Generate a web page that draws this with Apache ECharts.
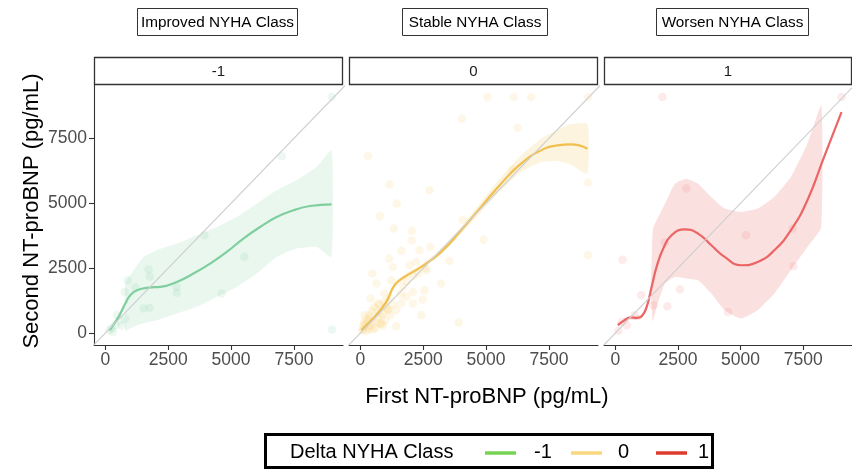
<!DOCTYPE html>
<html>
<head>
<meta charset="utf-8">
<script src="https://cdn.jsdelivr.net/npm/echarts@6/dist/echarts.min.js"></script>
<style>html,body{margin:0;padding:0;background:#fff}#c{width:852px;height:472px}</style>
</head>
<body>
<div id="c"></div>
<script>
// ---------- data ----------
var panelNames = ['-1', '0', '1'];
var panelTitles = ['Improved NYHA Class', 'Stable NYHA Class', 'Worsen NYHA Class'];
var xTicks = [0, 2500, 5000, 7500];
var yTicks = [0, 2500, 5000, 7500];
var legendTitle = 'Delta NYHA Class';
var xTitle = 'First NT-proBNP (pg/mL)';
var yTitle = 'Second NT-proBNP (pg/mL)';

// Improved (-1)
var improvedX   = [172, 529, 794, 992, 1256, 1720, 2183, 2844, 3505, 4167, 4828, 5489, 6151, 6812, 7474, 8135, 8996];
var improvedFit = [115, 628, 1141, 1461, 1654, 1757, 1782, 1974, 2295, 2680, 3128, 3641, 4089, 4474, 4731, 4897, 4962];
var improvedBandX = [172, 529, 750, 800, 1000, 1250, 1520, 2050, 2844, 3638, 4432, 5225, 6019, 6812, 7605, 8399, 8996];
var improvedLo    = [60, 520, 900, 80, 200, 300, 380, 500, 757, 1013, 1398, 1782, 2295, 2936, 3256, 3321, 2936];
var improvedHi    = [170, 740, 1100, 1950, 2250, 2600, 2936, 3192, 3449, 3769, 4089, 4474, 4987, 5500, 5885, 6397, 7038];
var improvedPtX = [9000, 7010, 3940, 5530, 4630, 2840, 2840, 1720, 1760, 890, 1190, 770, 1520, 1760, 790, 460, 400, 170, 300, 9020, 600, 250, 650];
var improvedPtY = [9090, 6810, 3770, 2940, 1530, 1780, 1560, 2450, 2170, 2040, 1760, 1590, 950, 980, 560, 690, 310, 120, 50, 140, 500, 200, 300];

// Stable (0)
var stableX   = [40, 567, 1032, 1361, 1758, 2421, 3214, 4008, 4801, 5595, 6389, 7182, 7841, 8371, 9032];
var stableFit = [115, 628, 1204, 1846, 2167, 2551, 3128, 3962, 4859, 5757, 6526, 7038, 7231, 7269, 7103];
var stableLo  = [55, 538, 1094, 1736, 2067, 2461, 3028, 3832, 4669, 5501, 6206, 6588, 6631, 6489, 6143];
var stableHi  = [175, 718, 1314, 1956, 2267, 2641, 3228, 4092, 5049, 6013, 6846, 7488, 7831, 8049, 8063];
var stablePtX = [5060, 6100, 6790, 9060, 4030, 6250, 300, 1160, 2750, 1450, 770, 1330, 2050, 2040, 4070, 6060, 9060, 9060, 4900, 1630, 2350, 2790, 1140, 1290, 1960, 2220, 2620, 3540, 480, 1230, 3210, 640, 2550, 2090, 410, 960, 1830, 2480, 1630, 2090, 700, 1100, 1430, 170, 2420, 1430, 3910, 830,
                 100, 200, 300, 150, 400, 500, 250, 600, 350, 700, 800, 450, 900, 1000, 550, 120, 650, 750, 850, 300, 1100, 950, 1200, 400, 200, 500, 1300, 1150, 650, 80, 350, 900, 1050, 1600, 1700, 1850, 2100, 2300, 2600];
var stablePtY = [9090, 9090, 9090, 9090, 8260, 7910, 6810, 5720, 5500, 4990, 4500, 4030, 3940, 3580, 4370, 6300, 5800, 3000, 3600, 3170, 3190, 3320, 2870, 2550, 2620, 2740, 2420, 2780, 2300, 2040, 1910, 1910, 1650, 1590, 1340, 1530, 1400, 1300, 1140, 1140, 1140, 890, 890, 690, 690, 270, 410, 370,
                 150, 80, 250, 400, 300, 450, 550, 200, 700, 600, 350, 850, 750, 500, 1000, 300, 900, 1100, 650, 450, 900, 1200, 700, 600, 350, 150, 1100, 1350, 400, 100, 150, 300, 1000, 1500, 1800, 2000, 2200, 2300, 2500];

// Worsen (1)
var worsenX   = [103, 329, 595, 857, 1055, 1254, 1452, 1650, 1916, 2246, 2778, 3305, 3833, 4365, 5024, 5686, 6349, 7008, 7670, 8333, 9031];
var worsenFit = [308, 473, 604, 588, 654, 1012, 1781, 2551, 3257, 3769, 4000, 3834, 3384, 2936, 2615, 2742, 3192, 3961, 5115, 6781, 8511];
var worsenBandX = [103, 329, 595, 857, 1055, 1254, 1420, 1500, 1650, 1984, 2381, 2841, 3305, 3833, 4365, 5024, 5686, 6349, 7008, 7670, 8226];
var worsenLo    = [250, 410, 530, 510, 570, 880, 1450, 450, 1000, 1911, 2166, 2100, 2038, 1527, 885, 565, 885, 1527, 2423, 3320, 4089];
var worsenHi    = [360, 540, 680, 670, 740, 1150, 1950, 4000, 4346, 4987, 5757, 5950, 5757, 5242, 4796, 4665, 4796, 5242, 6011, 7296, 8769];
var worsenPtX = [1880, 9030, 2840, 5220, 7080, 1980, 290, 7120, 2580, 1030, 1520, 2080, 4500, 770, 260, 460, 130];
var worsenPtY = [9090, 9090, 5570, 3770, 4030, 3490, 2830, 2580, 1690, 1460, 1080, 1040, 820, 690, 440, 310, 90];

// ---------- styles ----------
var lineColors = ['#7fce9e', '#f0bf4e', '#ec6565'];
var bandColors = ['rgba(127,206,158,0.17)', 'rgba(242,192,79,0.18)', 'rgba(236,101,101,0.2)'];
var ptColors = ['rgba(127,206,158,0.18)', 'rgba(245,200,90,0.18)', 'rgba(236,101,101,0.16)'];
var legendColors = ['#77d354', '#f9d77e', '#de3b2c'];
var FONT = '"Liberation Sans", Arial, sans-serif';

var panels = [
  {fx: improvedX, fy: improvedFit, bx: improvedBandX, lo: improvedLo, hi: improvedHi, px: improvedPtX, py: improvedPtY},
  {fx: stableX, fy: stableFit, bx: stableX, lo: stableLo, hi: stableHi, px: stablePtX, py: stablePtY},
  {fx: worsenX, fy: worsenFit, bx: worsenBandX, lo: worsenLo, hi: worsenHi, px: worsenPtX, py: worsenPtY}
];

var gridLefts = [94, 349, 604];
var gridW = 249, gridTop = 85, gridH = 260;
var XMIN = -450, XMAX = 9450, YMIN = -455, YMAX = 9555;

function zip(a, b) { return a.map(function (v, i) { return [v, b[i]]; }); }
function plain(v) { return String(v); }

var grids = [], xAxes = [], yAxes = [], series = [], graphics = [];
panels.forEach(function (p, i) {
  grids.push({left: gridLefts[i], top: gridTop, width: (i === 2 ? 248 : gridW), height: gridH, containLabel: false});
  xAxes.push({
    type: 'value', gridIndex: i, min: XMIN, max: XMAX,
    axisLine: {show: true, onZero: false, lineStyle: {color: '#333', width: 1.1}},
    axisTick: {show: true, length: 5, customValues: xTicks, lineStyle: {color: '#333', width: 1.1}},
    axisLabel: {show: true, customValues: xTicks, formatter: plain, margin: 6, color: '#4d4d4d', fontSize: 17.5, fontFamily: FONT},
    splitLine: {show: false}
  });
  yAxes.push({
    type: 'value', gridIndex: i, min: YMIN, max: YMAX,
    axisLine: {show: i === 0, onZero: false, lineStyle: {color: '#333', width: 1.1}},
    axisTick: {show: i === 0, length: 5, customValues: yTicks, lineStyle: {color: '#333', width: 1.1}},
    axisLabel: {show: i === 0, customValues: yTicks, formatter: plain, margin: 7, color: '#4d4d4d', fontSize: 17.5, fontFamily: FONT},
    splitLine: {show: false}
  });
  // points
  series.push({
    type: 'scatter', xAxisIndex: i, yAxisIndex: i, data: zip(p.px, p.py),
    symbolSize: 8.5, itemStyle: {color: ptColors[i]}, silent: true, z: 2
  });
  // ribbon
  (function (pp, idx) {
    series.push({
      type: 'custom', xAxisIndex: idx, yAxisIndex: idx, data: [[pp.bx[0], pp.lo[0]]], silent: true, z: 3,
      renderItem: function (params, api) {
        var pts = [];
        for (var k = 0; k < pp.bx.length; k++) pts.push(api.coord([pp.bx[k], pp.hi[k]]));
        for (var k2 = pp.bx.length - 1; k2 >= 0; k2--) pts.push(api.coord([pp.bx[k2], pp.lo[k2]]));
        return {type: 'polygon', shape: {points: pts, smooth: 0.15}, style: {fill: bandColors[idx], stroke: null}};
      }
    });
  })(p, i);
  // smooth fit line
  series.push({
    type: 'line', name: panelNames[i], xAxisIndex: i, yAxisIndex: i, data: zip(p.fx, p.fy),
    smooth: 0.5, showSymbol: false, symbol: 'none', lineStyle: {color: lineColors[i], width: 2.2}, silent: true, z: 4
  });
  // identity line
  series.push({
    type: 'line', xAxisIndex: i, yAxisIndex: i, data: [[-600, -600], [10000, 10000]], clip: true,
    showSymbol: false, symbol: 'none', lineStyle: {color: '#cfcfcf', width: 1.1}, silent: true, z: 5
  });
  // strip box
  var w = (i === 2 ? 248 : gridW);
  graphics.push({type: 'rect', shape: {x: gridLefts[i] + 0.5, y: 57.5, width: w - 1, height: 27},
    style: {fill: '#fff', stroke: '#333', lineWidth: 1.3}});
  graphics.push({type: 'text', x: gridLefts[i] + w / 2, y: 71.5,
    style: {text: panelNames[i], fill: '#1a1a1a', font: '15px ' + FONT, align: 'center', verticalAlign: 'middle'}});
});

// title boxes
var titleBoxes = [[137, 297], [402, 547], [656, 808]];
titleBoxes.forEach(function (b, i) {
  graphics.push({type: 'rect', shape: {x: b[0] + 0.5, y: 8.5, width: b[1] - b[0], height: 27},
    style: {fill: '#fff', stroke: '#333', lineWidth: 1}});
  graphics.push({type: 'text', x: (b[0] + b[1]) / 2 + 0.5, y: 22.5,
    style: {text: panelTitles[i], fill: '#000', font: '15.3px ' + FONT, align: 'center', verticalAlign: 'middle'}});
});

// axis titles
graphics.push({type: 'text', x: 487, y: 397,
  style: {text: xTitle, fill: '#000', font: '22px ' + FONT, align: 'center', verticalAlign: 'middle'}});
graphics.push({type: 'text', x: 32, y: 211, rotation: Math.PI / 2,
  style: {text: yTitle, fill: '#000', font: '22px ' + FONT, align: 'center', verticalAlign: 'middle'}});

// legend
graphics.push({type: 'rect', shape: {x: 265.5, y: 434.5, width: 447, height: 33},
  style: {fill: '#fff', stroke: '#000', lineWidth: 3}});
graphics.push({type: 'text', x: 290, y: 452,
  style: {text: legendTitle, fill: '#000', font: '20px ' + FONT, align: 'left', verticalAlign: 'middle'}});
var legKeyX = [485, 571, 656], legLabX = [534, 618, 698];
panelNames.forEach(function (n, i) {
  graphics.push({type: 'line', shape: {x1: legKeyX[i], y1: 453, x2: legKeyX[i] + 31, y2: 453},
    style: {stroke: legendColors[i], lineWidth: 3.5}});
  graphics.push({type: 'text', x: legLabX[i], y: 452,
    style: {text: n, fill: '#000', font: '20px ' + FONT, align: 'left', verticalAlign: 'middle'}});
});

var chart = echarts.init(document.getElementById('c'), null, {renderer: 'canvas'});
chart.setOption({
  animation: false,
  backgroundColor: '#fff',
  grid: grids, xAxis: xAxes, yAxis: yAxes, series: series, graphic: graphics
});
</script>
</body>
</html>
